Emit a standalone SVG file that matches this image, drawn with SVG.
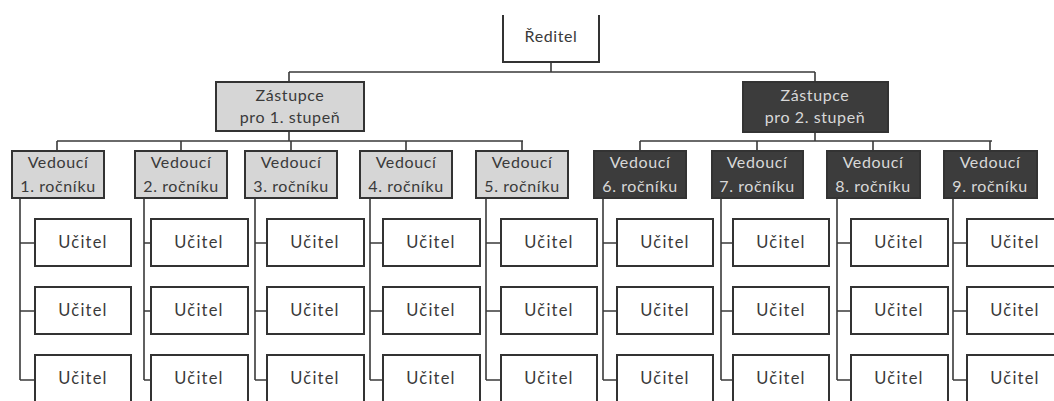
<svg xmlns="http://www.w3.org/2000/svg" width="1054" height="401" viewBox="0 0 1054 401">
<style>
.ln{fill:none;stroke:#3a3a3a;stroke-width:1.6}
.bx{stroke:#333;stroke-width:2}
.w{fill:#fff}
.lg{fill:#d6d6d6}
.dk{fill:#3c3c3c}
text{font-family:Lato,"Open Sans","Liberation Sans",sans-serif;text-anchor:middle;font-size:16px;letter-spacing:0.6px}
.tb{fill:#3a3a3a}
.tw{fill:#d8d8d8}
.u{font-size:16.5px;letter-spacing:1.2px}
</style>
<rect width="1054" height="401" fill="#fff"/>
<g id="connectors" class="ln">
<path d="M551 62V72M289 72H815M289 72V82M815 72V82"/>
<path d="M289 131V141M57 141H523M57 141V151M181 141V151M291 141V151M406 141V151M522 141V151"/>
<path d="M815 132V141M640 141H992M640 141V151M757 141V151M873 141V151M990 141V151"/>
<path d="M20 198V380M20 243H35M20 311H35M20 380H35"/>
<path d="M144 198V380M144 243H151M144 311H151M144 380H151"/>
<path d="M255 198V380M255 243H267M255 311H267M255 380H267"/>
<path d="M370 198V380M370 243H383M370 311H383M370 380H383"/>
<path d="M486 198V380M486 243H501M486 311H501M486 380H501"/>
<path d="M603 198V380M603 243H617M603 311H617M603 380H617"/>
<path d="M721 198V380M721 243H733M721 311H733M721 380H733"/>
<path d="M837 198V380M837 243H851M837 311H851M837 380H851"/>
<path d="M953 198V380M953 243H967M953 311H967M953 380H967"/>
</g>
<g id="reditel"><path class="bx" fill="none" d="M503 15V62H599V15"/><text class="tb" x="551" y="42" font-size="17.5" letter-spacing="1">Ředitel</text></g>
<g id="zastupce1"><rect class="bx lg" x="216" y="82" width="148" height="49"/><text class="tb" x="290" y="101" font-size="16.5" letter-spacing="0.8">Zástupce</text><text class="tb" x="290" y="123" font-size="16.5" letter-spacing="0.8">pro 1. stupeň</text></g>
<g id="zastupce2"><rect class="bx dk" x="743" y="82" width="145" height="50"/><text class="tw" x="815" y="101" font-size="16.5" letter-spacing="0.8">Zástupce</text><text class="tw" x="815" y="123" font-size="16.5" letter-spacing="0.8">pro 2. stupeň</text></g>
<g id="v1"><rect class="bx lg" x="12" y="151" width="92" height="47"/><text class="tb" x="58" y="168">Vedoucí</text><text class="tb" x="58" y="192">1. ročníku</text></g>
<g id="v2"><rect class="bx lg" x="135" y="151" width="92" height="47"/><text class="tb" x="181" y="168">Vedoucí</text><text class="tb" x="181" y="192">2. ročníku</text></g>
<g id="v3"><rect class="bx lg" x="245" y="151" width="92" height="47"/><text class="tb" x="291" y="168">Vedoucí</text><text class="tb" x="291" y="192">3. ročníku</text></g>
<g id="v4"><rect class="bx lg" x="360" y="151" width="92" height="47"/><text class="tb" x="406" y="168">Vedoucí</text><text class="tb" x="406" y="192">4. ročníku</text></g>
<g id="v5"><rect class="bx lg" x="476" y="151" width="92" height="47"/><text class="tb" x="522" y="168">Vedoucí</text><text class="tb" x="522" y="192">5. ročníku</text></g>
<g id="v6"><rect class="bx dk" x="594" y="151" width="92" height="47"/><text class="tw" x="640" y="168">Vedoucí</text><text class="tw" x="640" y="192">6. ročníku</text></g>
<g id="v7"><rect class="bx dk" x="712" y="151" width="91" height="47"/><text class="tw" x="757" y="168">Vedoucí</text><text class="tw" x="757" y="192">7. ročníku</text></g>
<g id="v8"><rect class="bx dk" x="827" y="151" width="93" height="47"/><text class="tw" x="873" y="168">Vedoucí</text><text class="tw" x="873" y="192">8. ročníku</text></g>
<g id="v9"><rect class="bx dk" x="944" y="151" width="93" height="47"/><text class="tw" x="990" y="168">Vedoucí</text><text class="tw" x="990" y="192">9. ročníku</text></g>
<g id="teachers" class="tb">
<g id="t1"><rect class="bx w" x="35" y="219" width="96" height="47"/><text class="u" x="83" y="248">Učitel</text><rect class="bx w" x="35" y="287" width="96" height="47"/><text class="u" x="83" y="316">Učitel</text><rect class="bx w" x="35" y="355" width="96" height="47"/><text class="u" x="83" y="384">Učitel</text></g>
<g id="t2"><rect class="bx w" x="151" y="219" width="97" height="47"/><text class="u" x="199" y="248">Učitel</text><rect class="bx w" x="151" y="287" width="97" height="47"/><text class="u" x="199" y="316">Učitel</text><rect class="bx w" x="151" y="355" width="97" height="47"/><text class="u" x="199" y="384">Učitel</text></g>
<g id="t3"><rect class="bx w" x="267" y="219" width="97" height="47"/><text class="u" x="315" y="248">Učitel</text><rect class="bx w" x="267" y="287" width="97" height="47"/><text class="u" x="315" y="316">Učitel</text><rect class="bx w" x="267" y="355" width="97" height="47"/><text class="u" x="315" y="384">Učitel</text></g>
<g id="t4"><rect class="bx w" x="383" y="219" width="97" height="47"/><text class="u" x="431" y="248">Učitel</text><rect class="bx w" x="383" y="287" width="97" height="47"/><text class="u" x="431" y="316">Učitel</text><rect class="bx w" x="383" y="355" width="97" height="47"/><text class="u" x="431" y="384">Učitel</text></g>
<g id="t5"><rect class="bx w" x="501" y="219" width="96" height="47"/><text class="u" x="549" y="248">Učitel</text><rect class="bx w" x="501" y="287" width="96" height="47"/><text class="u" x="549" y="316">Učitel</text><rect class="bx w" x="501" y="355" width="96" height="47"/><text class="u" x="549" y="384">Učitel</text></g>
<g id="t6"><rect class="bx w" x="617" y="219" width="96" height="47"/><text class="u" x="665" y="248">Učitel</text><rect class="bx w" x="617" y="287" width="96" height="47"/><text class="u" x="665" y="316">Učitel</text><rect class="bx w" x="617" y="355" width="96" height="47"/><text class="u" x="665" y="384">Učitel</text></g>
<g id="t7"><rect class="bx w" x="733" y="219" width="96" height="47"/><text class="u" x="781" y="248">Učitel</text><rect class="bx w" x="733" y="287" width="96" height="47"/><text class="u" x="781" y="316">Učitel</text><rect class="bx w" x="733" y="355" width="96" height="47"/><text class="u" x="781" y="384">Učitel</text></g>
<g id="t8"><rect class="bx w" x="851" y="219" width="97" height="47"/><text class="u" x="899" y="248">Učitel</text><rect class="bx w" x="851" y="287" width="97" height="47"/><text class="u" x="899" y="316">Učitel</text><rect class="bx w" x="851" y="355" width="97" height="47"/><text class="u" x="899" y="384">Učitel</text></g>
<g id="t9"><rect class="bx w" x="967" y="219" width="97" height="47"/><text class="u" x="1015" y="248">Učitel</text><rect class="bx w" x="967" y="287" width="97" height="47"/><text class="u" x="1015" y="316">Učitel</text><rect class="bx w" x="967" y="355" width="97" height="47"/><text class="u" x="1015" y="384">Učitel</text></g>
</g>
</svg>
